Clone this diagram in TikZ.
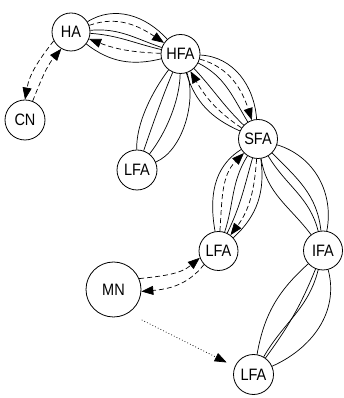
\documentclass[tikz,border=0pt]{standalone}
\usepackage{fontspec}
\setmainfont{Liberation Sans}[FakeStretch=0.88]
\usetikzlibrary{arrows.meta}
\tikzset{
  st/.style={circle,draw,line width=0.8pt,minimum size=39pt,inner sep=0pt,font=\fontsize{16.5}{16.5}\selectfont},
  sl/.style={line width=0.7pt},
  ds/.style={line width=0.7pt,dash pattern=on 5pt off 3pt,-{Triangle[length=12pt,width=9pt]}},
  dt/.style={line width=0.7pt,dash pattern=on 0.8pt off 2.2pt,-{Triangle[length=12pt,width=9pt]}}
}
\begin{document}
\begin{tikzpicture}[x=1pt,y=1pt]
\useasboundingbox (0,0) rectangle (344,398);
\node[st,minimum size=38pt] (HA) at (71,366) {HA};
\node[st,minimum size=40pt] (CN) at (25,278) {CN};
\node[st] (HFA) at (180.5,344) {HFA};
\node[st,minimum size=40pt] (LFA1) at (137,228) {LFA};
\node[st] (SFA) at (258,259) {SFA};
\node[st] (LFA2) at (218.5,147) {LFA};
\node[st] (IFA) at (323,147.5) {IFA};
\node[st,minimum size=55pt] (MN) at (113.5,108.5) {MN};
\node[st,minimum size=40pt] (LFA3) at (253.5,23.5) {LFA};
% HA - HFA
\draw[sl] (HA) to[out=32,in=132] (HFA);
\draw[ds] (HA) to[out=20,in=146] (HFA);
\draw[sl] (HA) to[out=5,in=161] (HFA);
\draw[sl] (HA) to[out=-4,in=167] (HFA);
\draw[ds] (HFA) to[out=178,in=-21] (HA);
\draw[sl] (HA) to[out=-38,in=194] (HFA);
% HFA - SFA
\draw[sl] (HFA) to[out=-3,in=94] (SFA);
\draw[ds] (HFA) to[out=-15,in=108] (SFA);
\draw[sl] (HFA) to[out=-27,in=121] (SFA);
\draw[sl] (HFA) to[out=-47,in=136] (SFA);
\draw[ds] (SFA) to[out=146,in=-60] (HFA);
\draw[sl] (HFA) to[out=-73,in=156] (SFA);
% HFA - LFA1
\draw[sl] (HFA) to[out=233,in=91,looseness=0.8] (LFA1);
\draw[sl] (HFA) to[out=247,in=71,looseness=0.8] (LFA1);
\draw[sl] (HFA) to[out=269,in=52,looseness=0.8] (LFA1);
\draw[sl] (HFA) to[out=289,in=23,looseness=0.8] (LFA1);
% SFA - LFA2
\draw[sl] (SFA) to[out=212,in=100] (LFA2);
\draw[ds] (LFA2) to[out=86,in=225] (SFA);
\draw[sl] (SFA) to[out=238,in=72] (LFA2);
\draw[sl] (SFA) to[out=254,in=64] (LFA2);
\draw[ds] (SFA) to[out=266,in=53] (LFA2);
\draw[sl] (SFA) to[out=278,in=42] (LFA2);
% SFA - IFA
\draw[sl] (SFA) to[out=-81,in=127] (IFA);
\draw[sl] (SFA) to[out=-59,in=104] (IFA);
\draw[sl] (SFA) to[out=-45,in=96] (IFA);
\draw[sl] (SFA) to[out=-17,in=79] (IFA);
% IFA - LFA3
\draw[sl] (IFA) to[out=222,in=80] (LFA3);
\draw[sl] (IFA) to[out=248,in=54] (LFA3);
\draw[sl] (IFA) to[out=256,in=60] (LFA3);
\draw[sl] (IFA) to[out=285,in=24] (LFA3);
% HA - CN
\draw[ds] (HA.207) to[out=232,in=80] (CN.90);
\draw[ds] (CN.68) to[out=68,in=230] (HA.240);
% MN - LFA2
\draw[ds] (MN.23) to[out=6,in=220] (LFA2.200);
\draw[ds] (LFA2.223) to[out=232,in=5] (MN.-4);
% MN - LFA3
\draw[dt,shorten <=15pt,shorten >=9pt] (MN.-58) -- (LFA3.157);
\end{tikzpicture}
\end{document}
